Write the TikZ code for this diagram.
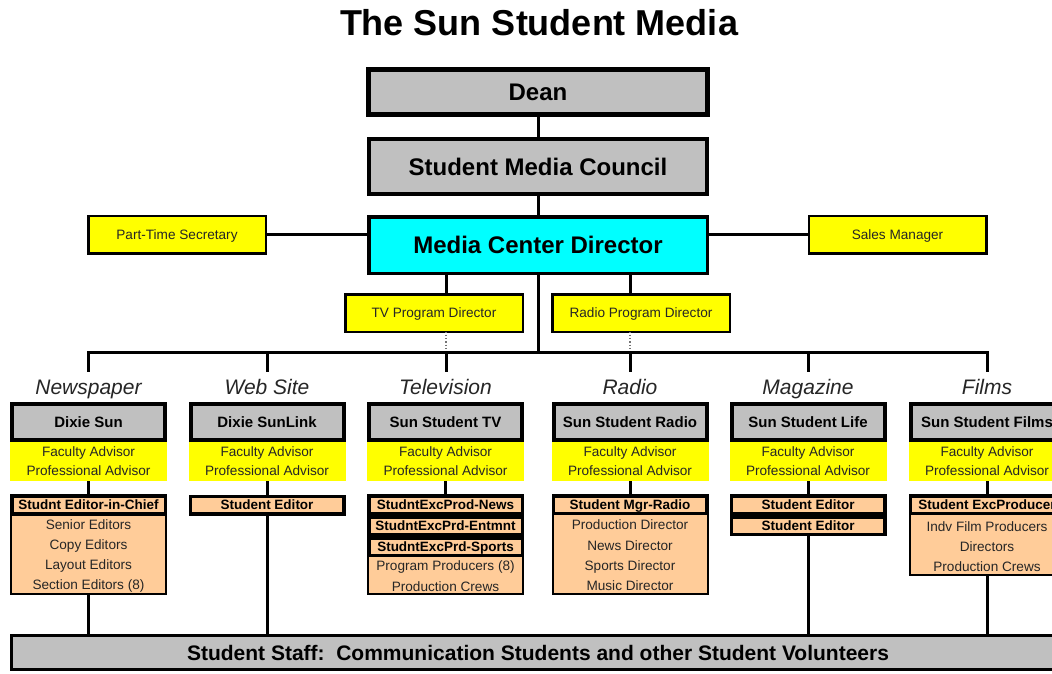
\documentclass[tikz,border=0pt]{standalone}
\usepackage{fontspec}
\setmainfont{Liberation Sans}
\usetikzlibrary{calc}

\definecolor{boxgray}{HTML}{C0C0C0}
\definecolor{dircyan}{HTML}{00FFFF}
\definecolor{staffyellow}{HTML}{FFFF00}
\definecolor{crewpeach}{HTML}{FFCC99}
\definecolor{textdark}{HTML}{262626}

\newcommand{\fsz}[1]{\fontsize{#1pt}{#1pt}\selectfont}

\tikzset{
  base/.style={rectangle, inner sep=0pt, outer sep=0pt, align=center},
  topbox/.style={base, draw=black, fill=boxgray, font=\bfseries\fsz{24},
    text height=17.2pt, text depth=0pt},
  sidebox/.style={base, draw=black, line width=2.5pt, fill=staffyellow,
    text=textdark, font=\fsz{13.6}, minimum width=177.5pt, minimum height=37.5pt,
    text height=9.7pt, text depth=0pt},
  collabel/.style={base, anchor=base, font=\itshape\fsz{21}, text=textdark},
  colhead/.style={base, draw=black, line width=4pt, fill=boxgray,
    minimum width=153pt, minimum height=36pt, font=\bfseries\fsz{15},
    text height=10.7pt, text depth=0pt},
  advisor/.style={base, fill=staffyellow, minimum width=157pt, minimum height=39pt,
    text=textdark, font=\fontsize{13.6pt}{19pt}\selectfont},
  crewbox/.style={base, draw=black, line width=2pt, fill=crewpeach, minimum width=155pt},
  leadrow/.style={base, draw=black, line width=3.5pt, fill=crewpeach,
    minimum width=153.5pt, minimum height=17.5pt, font=\bfseries\fsz{13.5},
    text height=9.7pt, text depth=0pt},
  crewlist/.style={base, text=textdark, font=\fontsize{13.6pt}{20.3pt}\selectfont},
  link/.style={draw=black, line width=3pt},
  sidelink/.style={draw=black, line width=2.5pt},
  dotlink/.style={draw=black!55, line width=1.2pt, dotted},
}

\begin{document}
\begin{tikzpicture}[x=1pt, y=-1pt]
  \useasboundingbox (0,0) rectangle (1052,673);
  \clip (0,0) rectangle (1052,673);
  \fill[white] (0,0) rectangle (1052,673);

  % title
  \node[base, font=\bfseries\fsz{36}, text height=25.8pt, text depth=0pt] (title) at (539,23) {The Sun Student Media};

  % governing chain
  \node[topbox, line width=5pt, minimum width=339pt, minimum height=45pt] (dean) at (538,92) {Dean};
  \node[topbox, line width=4pt, minimum width=338pt, minimum height=55pt] (smc) at (538,166.5) {Student Media Council};
  \node[topbox, line width=3.5pt, fill=dircyan, minimum width=338.5pt, minimum height=56.5pt] (mcd) at (538,245) {Media Center Director};

  \draw[link] (dean.south) -- (smc.north);
  \draw[link] (smc.south) -- (mcd.north);

  % staff beside the director
  \node[sidebox] (pts) at (177,234.5) {Part-Time Secretary};
  \node[sidebox] (sales) at (897.5,234.5) {Sales Manager};
  \draw[sidelink] (pts.east) -- (mcd.west |- pts.east);
  \draw[sidelink] (sales.west) -- (mcd.east |- sales.west);

  % program directors
  \node[sidebox] (tvpd) at (434,313) {TV Program Director};
  \node[sidebox] (radpd) at (641,313) {Radio Program Director};

  % bus to the six outlets
  \coordinate (bus-np) at (88.5,352);
  \coordinate (bus-web) at (267,352);
  \coordinate (bus-tv) at (446,352);
  \coordinate (bus-rad) at (630,352);
  \coordinate (bus-mag) at (808,352);
  \coordinate (bus-film) at (987,352);

  \draw[link] (mcd.south -| bus-tv) -- (tvpd.north -| bus-tv);
  \draw[link] (mcd.south -| bus-rad) -- (radpd.north -| bus-rad);
  \draw[dotlink] (tvpd.south -| bus-tv) -- (bus-tv);
  \draw[dotlink] (radpd.south -| bus-rad) -- (bus-rad);
  \draw[link] (mcd.south) -- (mcd.south |- bus-np);
  \draw[link, line cap=rect] (bus-np) -- (bus-film);
  \foreach \c in {np,web,tv,rad,mag,film}
    \draw[link] (bus-\c) -- ++(0,20);

  % outlet labels
  \node[collabel] (np-label) at (88.5,394.5) {Newspaper};
  \node[collabel] (web-label) at (267,394.5) {Web Site};
  \node[collabel] (tv-label) at (445.5,394.5) {Television};
  \node[collabel] (rad-label) at (630,394.5) {Radio};
  \node[collabel] (mag-label) at (808,394.5) {Magazine};
  \node[collabel] (film-label) at (987,394.5) {Films};

  % student staff
  \node[base, draw=black, line width=3pt, fill=boxgray, minimum width=1053pt, minimum height=34pt,
        font=\bfseries\fsz{21}, text height=15pt, text depth=0pt] (staff) at (538,652.5)
        {Student Staff:\ \ Communication Students and other Student Volunteers};

  % Newspaper
  \node[colhead] (np-head) at (88.5,422) {Dixie Sun};
  \node[advisor] (np-adv) at (88.5,461.5) {Faculty Advisor\\Professional Advisor};
  \node[crewbox, minimum height=99pt] (np-crew) at (88.5,544.5) {};
  \node[leadrow] (np-chief) at (88.5,505) {Studnt Editor-in-Chief};
  \node[crewlist] (np-list) at (88.5,556) {Senior Editors\\Copy Editors\\Layout Editors\\Section Editors (8)};
  \draw[link] (np-adv.south) -- (np-chief.north);
  \draw[link] (np-crew.south) -- (np-crew.south |- staff.north);

  % Web Site
  \node[colhead] (web-head) at (267,422) {Dixie SunLink};
  \node[advisor] (web-adv) at (267,461.5) {Faculty Advisor\\Professional Advisor};
  \node[leadrow] (web-ed) at (267,505) {Student Editor};
  \draw[link] (web-adv.south) -- (web-ed.north);
  \draw[link] (web-ed.south) -- (web-ed.south |- staff.north);

  % Television
  \node[colhead] (tv-head) at (445.5,422) {Sun Student TV};
  \node[advisor] (tv-adv) at (445.5,461.5) {Faculty Advisor\\Professional Advisor};
  \node[crewbox, minimum height=99pt] (tv-crew) at (445.5,544.5) {};
  \node[leadrow] (tv-news) at (445.5,504.5) {StudntExcProd-News};
  \node[leadrow] (tv-ent) at (445.5,525.5) {StudntExcPrd-Entmnt};
  \node[leadrow] (tv-sports) at (445.5,546.5) {StudntExcPrd-Sports};
  \node[crewlist] (tv-list) at (445.5,576) {Program Producers (8)\\Production Crews};
  \draw[link] (tv-adv.south) -- (tv-news.north);

  % Radio
  \node[colhead] (rad-head) at (630,422) {Sun Student Radio};
  \node[advisor] (rad-adv) at (630,461.5) {Faculty Advisor\\Professional Advisor};
  \node[crewbox, minimum height=99pt] (rad-crew) at (630,544.5) {};
  \node[leadrow] (rad-mgr) at (630,504.5) {Student Mgr-Radio};
  \node[crewlist] (rad-list) at (630,555.5) {Production Director\\News Director\\Sports Director\\Music Director};
  \draw[link] (rad-adv.south) -- (rad-mgr.north);

  % Magazine
  \node[colhead] (mag-head) at (808,422) {Sun Student Life};
  \node[advisor] (mag-adv) at (808,461.5) {Faculty Advisor\\Professional Advisor};
  \node[leadrow] (mag-ed1) at (808,504.5) {Student Editor};
  \node[leadrow] (mag-ed2) at (808,525.5) {Student Editor};
  \draw[link] (mag-adv.south) -- (mag-ed1.north);
  \draw[link] (mag-ed2.south) -- (mag-ed2.south |- staff.north);

  % Films
  \node[colhead] (film-head) at (987,422) {Sun Student Films};
  \node[advisor] (film-adv) at (987,461.5) {Faculty Advisor\\Professional Advisor};
  \node[crewbox, minimum height=80pt] (film-crew) at (987,535) {};
  \node[leadrow] (film-exec) at (987,504.5) {Student ExcProducer};
  \node[crewlist] (film-list) at (987,546.5) {Indv Film Producers\\Directors\\Production Crews};
  \draw[link] (film-adv.south) -- (film-exec.north);
  \draw[link] (film-crew.south) -- (film-crew.south |- staff.north);
\end{tikzpicture}
\end{document}
